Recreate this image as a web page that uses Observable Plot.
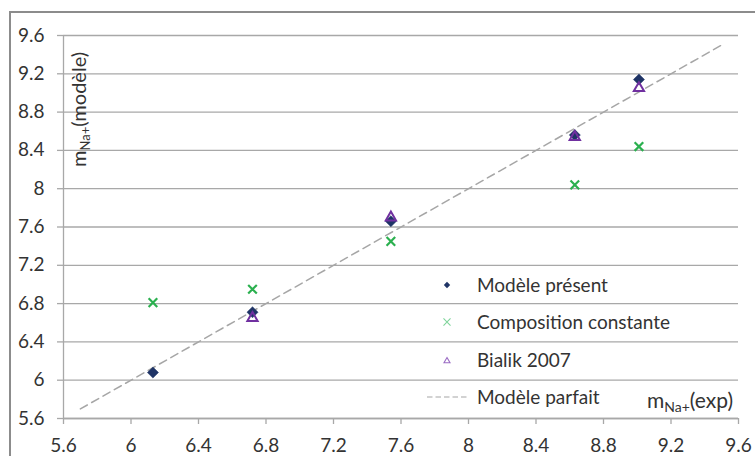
<!DOCTYPE html>
<html>
<head>
<meta charset="utf-8">
<script src="https://cdn.jsdelivr.net/npm/d3@7"></script>
<script src="https://cdn.jsdelivr.net/npm/@observablehq/plot@0.6"></script>
<style>
  html, body { margin: 0; padding: 0; background: white; }
  #wrap { position: relative; width: 755px; height: 456px; overflow: hidden; }
  #frame { position: absolute; left: 9px; top: 11px; width: 800px; height: 500px;
           border-left: 2px solid #8c8c8c; border-top: 2px solid #8c8c8c; pointer-events: none; }
</style>
</head>
<body>
<div id="wrap"><div id="frame"></div></div>
<script>
// ---- data ----
const xTicks = [5.6, 6, 6.4, 6.8, 7.2, 7.6, 8, 8.4, 8.8, 9.2, 9.6];
const yTicks = [5.6, 6, 6.4, 6.8, 7.2, 7.6, 8, 8.4, 8.8, 9.2, 9.6];

const presentX = [6.13, 6.72, 7.54, 8.63, 9.01];
const presentY = [6.08, 6.71, 7.66, 8.56, 9.14];

const constX = [6.13, 6.72, 7.54, 8.63, 9.01];
const constY = [6.81, 6.95, 7.45, 8.04, 8.44];

const bialikX = [6.72, 7.54, 8.63, 9.01];
const bialikY = [6.65, 7.70, 8.54, 9.05];

const perfectX = [5.7, 9.5];
const perfectY = [5.7, 9.5];

const seriesNames = ["Modèle présent", "Composition constante", "Bialik 2007", "Modèle parfait"];

// ---- styles ----
const navy = "#1f3466";
const green = "#2bb04f";
const purple = "#7030a0";
const gridColor = "#a8a8a8";
const textColor = "#333333";

const toRows = (xs, ys) => xs.map((x, i) => ({x, y: ys[i]}));

const chart = Plot.plot({
  width: 755,
  height: 456,
  marginLeft: 63,
  marginRight: 17,
  marginTop: 35,
  marginBottom: 38,
  style: {fontFamily: "Lato", fontSize: "19px", color: textColor, background: "transparent"},
  x: {domain: [5.6, 9.6]},
  y: {domain: [5.6, 9.6]},
  marks: [
    Plot.gridY(yTicks, {stroke: gridColor, strokeOpacity: 1, strokeWidth: 1.3}),
    Plot.axisY(yTicks, {tickSize: 6, tickPadding: 13, stroke: gridColor, strokeWidth: 1.3, color: textColor, label: null, tickFormat: d => String(d)}),
    Plot.axisX(xTicks, {tickSize: 6, tickPadding: 14, stroke: gridColor, strokeWidth: 1.3, color: textColor, label: null, tickFormat: d => String(d)}),
    Plot.ruleX([5.6], {stroke: gridColor, strokeWidth: 1.3}),
    Plot.ruleY([5.6], {stroke: gridColor, strokeWidth: 1.3}),
    Plot.line(toRows(perfectX, perfectY), {x: "x", y: "y", stroke: "#a6a6a6", strokeWidth: 1.5, strokeDasharray: "8,5"}),
    Plot.dot(toRows(presentX, presentY), {x: "x", y: "y", symbol: "diamond2", r: 5, fill: navy, stroke: navy, strokeWidth: 0.5}),
    Plot.dot(toRows(constX, constY), {x: "x", y: "y", symbol: "times", r: 4, stroke: green, strokeWidth: 2.2}),
    Plot.dot(toRows(bialikX, bialikY), {x: "x", y: "y", symbol: "triangle", r: 3.8, stroke: purple, strokeWidth: 2, fill: "none"})
  ]
});

document.getElementById("wrap").prepend(chart);

const svg = d3.select(chart);

// Y axis title
const yt = svg.append("text")
  .attr("transform", "translate(86,167) rotate(-90)")
  .attr("text-anchor", "start")
  .attr("fill", textColor)
  .style("font-family", "Lato")
  .style("font-size", "20px");
yt.append("tspan").text("m");
yt.append("tspan").attr("dy", 4).style("font-size", "13px").text("Na+");
yt.append("tspan").attr("dy", -4).text("(modèle)");

// X axis title
const xt = svg.append("text")
  .attr("x", 733).attr("y", 408)
  .attr("text-anchor", "end")
  .attr("fill", textColor)
  .style("font-family", "Lato")
  .style("font-size", "21px");
xt.append("tspan").text("m");
xt.append("tspan").attr("dy", 4).style("font-size", "14px").text("Na+");
xt.append("tspan").attr("dy", -4).text("(exp)");

// Legend
const legY = [285, 322, 360, 397];
const leg = svg.append("g").style("font-family", "Lato").style("font-size", "19px").attr("text-anchor", "start");
const symX = 447;
leg.append("path").attr("transform", `translate(${symX},${legY[0]})`)
  .attr("d", d3.symbol(d3.symbolDiamond2, 26)()).attr("fill", navy);
leg.append("path").attr("transform", `translate(${symX},${legY[1]})`)
  .attr("d", d3.symbol(d3.symbolTimes, 34)()).attr("stroke", "#7fd49b").attr("stroke-width", 1.1).attr("fill", "none");
leg.append("path").attr("transform", `translate(${symX},${legY[2] + 1})`)
  .attr("d", d3.symbol(d3.symbolTriangle2, 26)()).attr("stroke", "#9b6cc4").attr("stroke-width", 1.1).attr("fill", "none");
leg.append("line").attr("x1", 427).attr("x2", 469).attr("y1", legY[3]).attr("y2", legY[3])
  .attr("stroke", "#a6a6a6").attr("stroke-width", 1.2).attr("stroke-dasharray", "5.5,3");
seriesNames.forEach((name, i) => {
  leg.append("text").attr("x", 477).attr("y", legY[i]).attr("dy", "0.35em")
    .attr("text-anchor", "start")
    .attr("fill", textColor).text(name);
});
</script>
</body>
</html>
